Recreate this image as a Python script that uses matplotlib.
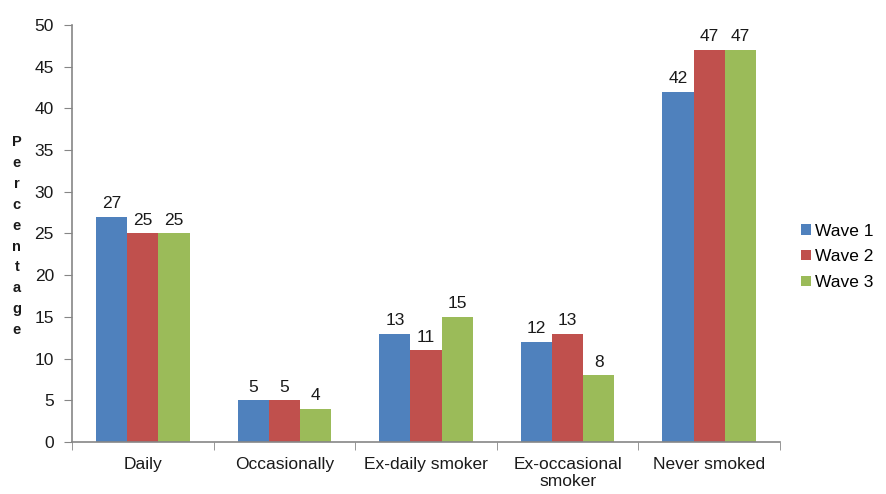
import numpy as np
import matplotlib.pyplot as plt

plt.rcParams['font.family'] = ['Liberation Sans', 'DejaVu Sans']

# data
categories = ['Daily', 'Occasionally', 'Ex-daily smoker', 'Ex-occasional\nsmoker', 'Never smoked']
wave1 = [27, 5, 13, 12, 42]
wave2 = [25, 5, 11, 13, 47]
wave3 = [25, 4, 15, 8, 47]
series_names = ['Wave 1', 'Wave 2', 'Wave 3']
colors = ['#4F81BD', '#C0504D', '#9BBB59']

fig = plt.figure(figsize=(8.87, 4.94), dpi=100)
ax = fig.add_axes([0.0812, 0.1053, 0.7982, 0.8441])

x = np.arange(len(categories))
width = 0.22
for i, (vals, name, c) in enumerate(zip([wave1, wave2, wave3], series_names, colors)):
    bars = ax.bar(x + (i - 1) * width, vals, width, color=c, label=name)
    for b, v in zip(bars, vals):
        ax.annotate(str(v), (b.get_x() + b.get_width() / 2, v), xytext=(0, 4),
                    textcoords='offset points', ha='center', va='bottom',
                    fontsize=12.5, color='#1a1a1a')

ax.set_xlim(-0.5, len(categories) - 0.5)
ax.set_ylim(0, 50)
ax.set_yticks(range(0, 51, 5))

# category labels centred, ticks at group boundaries
ax.set_xticks(x)
ax.set_xticklabels(categories, fontsize=12.5, color='#1a1a1a', linespacing=1.15)
ax.set_xticks(np.arange(-0.5, len(categories), 1.0), minor=True)
ax.tick_params(axis='x', which='major', length=0, pad=11)
ax.tick_params(axis='x', which='minor', length=6, color='#868686', direction='out')
ax.tick_params(axis='y', length=6, color='#868686', labelsize=12.5, labelcolor='#1a1a1a', pad=7)

for side in ['top', 'right']:
    ax.spines[side].set_visible(False)
for side in ['left', 'bottom']:
    ax.spines[side].set_color('#868686')
    ax.spines[side].set_linewidth(1.2)

# stacked vertical axis title
fig.text(0.019, 0.522, '\n'.join('Percentage'), ha='center', va='center',
         fontsize=10.5, fontweight='bold', linespacing=1.62, color='#1a1a1a')

ax.legend(loc='center left', bbox_to_anchor=(1.03, 0.444), frameon=False,
          fontsize=12.5, handlelength=0.55, handleheight=0.55, handletextpad=0.25,
          labelspacing=0.62, borderaxespad=0, borderpad=0)

fig.savefig('out.png', dpi=100)
